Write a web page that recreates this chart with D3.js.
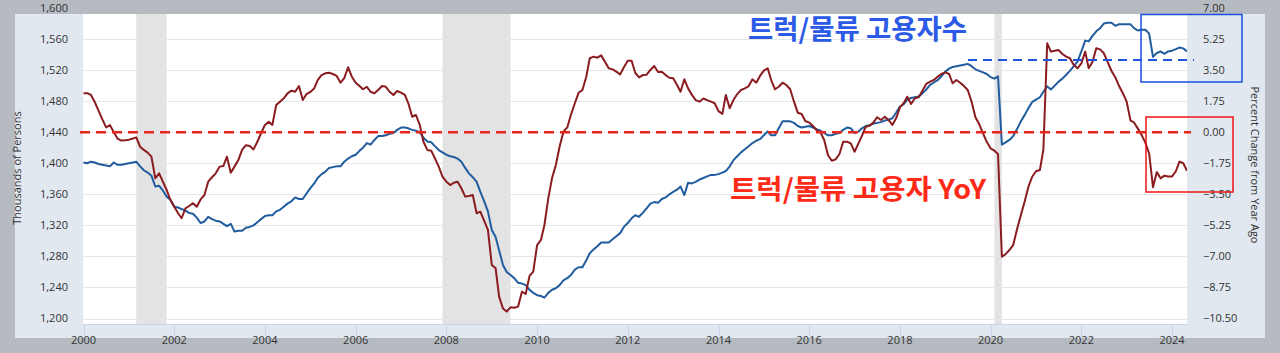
<!DOCTYPE html>
<html><head><meta charset="utf-8">
<script src="https://cdn.jsdelivr.net/npm/d3@7"></script>
<style>
html,body{margin:0;padding:0;background:#b6bac1;}
svg{display:block;}
</style></head>
<body>
<svg id="c" width="1280" height="353"></svg>
<script>
// ---- data ----
const startMonth = "2000-01";
const employment = [
// 2000
1401,1400,1402,1401,1399,1398,1397,1396,1401,1398,1398,1399,
// 2001
1400,1401,1402,1396,1391,1388,1384,1370,1371,1365,1357,1353,
// 2002
1344,1343,1341,1339,1336,1335,1330,1323,1325,1331,1328,1326,
// 2003
1325,1322,1319,1322,1312,1313,1313,1317,1318,1320,1324,1328,
// 2004
1332,1333,1333,1338,1340,1344,1348,1351,1356,1354,1354,1361,
// 2005
1368,1374,1381,1386,1389,1394,1395,1396,1396,1402,1406,1409,
// 2006
1411,1416,1420,1426,1424,1430,1435,1435,1436,1438,1439,1443,
// 2007
1446,1446,1445,1443,1442,1440,1433,1428,1427,1422,1417,1414,
// 2008
1411,1409,1408,1406,1402,1394,1387,1382,1376,1363,1351,1338,
// 2009
1314,1305,1288,1269,1260,1256,1252,1246,1245,1243,1237,1233,
// 2010
1230,1229,1227,1233,1237,1239,1243,1249,1252,1256,1263,1266,
// 2011
1266,1275,1284,1289,1293,1298,1298,1298,1302,1306,1310,1318,
// 2012
1323,1329,1333,1331,1336,1342,1348,1350,1349,1354,1356,1360,
// 2013
1363,1366,1370,1359,1375,1374,1376,1379,1381,1383,1385,1385,
// 2014
1386,1388,1390,1396,1404,1409,1414,1418,1422,1426,1429,1431,
// 2015
1436,1441,1436,1436,1445,1454,1454,1454,1452,1448,1446,1447,
// 2016
1448,1446,1444,1442,1439,1436,1436,1438,1439,1443,1446,1445,
// 2017
1439,1441,1445,1448,1449,1451,1452,1453,1455,1456,1458,1465,
// 2018
1473,1476,1482,1484,1485,1486,1490,1495,1501,1504,1507,1512,
// 2019
1518,1522,1524,1525,1526,1527,1528,1525,1521,1519,1517,1515,
// 2020
1511,1509,1512,1424,1427,1430,1435,1444,1454,1462,1471,1479,
// 2021
1482,1485,1492,1499,1495,1500,1505,1509,1514,1519,1525,1531,
// 2022
1544,1558,1557,1564,1570,1574,1580,1581,1581,1577,1579,1579,
// 2023
1579,1579,1574,1571,1572,1572,1567,1537,1542,1544,1541,1544,
// 2024
1545,1547,1549,1548,1544
];
const yoyPct = [
// 2000
2.19,2.20,2.10,1.70,1.22,0.72,0.27,0.40,0.00,-0.36,-0.47,-0.46,
// 2001
-0.42,-0.36,-0.29,-0.82,-1.00,-1.15,-1.38,-2.60,-2.32,-2.79,-3.26,-3.82,
// 2002
-4.20,-4.57,-4.85,-4.29,-4.16,-4.00,-4.20,-3.79,-3.54,-2.79,-2.54,-2.32,
// 2003
-1.94,-1.90,-1.38,-2.28,-1.94,-1.57,-1.00,-0.73,-0.78,-0.97,-0.54,-0.06,
// 2004
0.41,0.59,0.41,1.53,1.72,1.91,2.19,2.34,2.28,2.60,1.81,2.15,
// 2005
2.27,2.47,2.94,3.22,3.32,3.35,3.28,3.17,2.79,3.05,3.66,3.13,
// 2006
2.79,2.60,2.42,2.56,2.28,2.19,2.38,2.60,2.56,2.28,2.10,2.32,
// 2007
2.23,2.10,1.63,0.87,0.97,0.41,-0.54,-1.00,-1.04,-1.47,-1.94,-2.51,
// 2008
-2.79,-2.98,-2.85,-2.79,-3.16,-3.63,-3.60,-3.54,-4.57,-4.48,-5.00,-5.50,
// 2009
-7.48,-7.67,-9.27,-9.93,-10.11,-9.87,-9.89,-9.83,-8.99,-9.12,-8.10,-7.86,
// 2010
-6.36,-6.07,-5.23,-3.73,-2.60,-1.85,-0.82,0.03,0.27,1.00,1.63,2.22,
// 2011
2.38,3.13,4.17,4.26,4.20,4.33,3.97,3.60,3.54,3.41,3.26,3.66,
// 2012
4.03,4.03,3.35,3.09,3.22,3.24,3.51,3.73,3.39,3.41,3.22,3.07,
// 2013
3.04,2.66,2.28,2.98,2.47,2.10,1.81,1.72,1.90,1.81,1.72,1.63,
// 2014
1.19,1.03,2.10,1.35,1.81,2.15,2.38,2.47,2.60,2.98,2.79,3.17,
// 2015
3.47,3.60,2.94,2.42,2.56,2.79,2.66,2.42,1.72,1.10,1.03,0.63,
// 2016
0.54,0.35,0.10,0.00,-0.44,-1.30,-1.61,-1.53,-1.23,-0.54,-0.54,-0.63,
// 2017
-1.10,-0.63,-0.21,0.31,0.36,0.54,0.84,0.69,0.87,0.69,0.41,0.78,
// 2018
1.40,1.65,2.00,1.59,1.91,1.97,2.34,2.72,2.85,2.94,3.13,3.28,
// 2019
3.37,3.28,2.76,2.94,2.79,2.60,2.38,1.72,0.84,0.46,-0.06,-0.54,
// 2020
-0.91,-1.04,-1.23,-7.02,-6.87,-6.64,-6.36,-5.47,-4.67,-3.92,-3.07,-2.51,
// 2021
-2.20,-2.13,-1.00,5.01,4.54,4.59,4.63,4.41,4.26,4.17,3.79,3.60,
// 2022
3.88,4.54,3.60,3.97,4.73,4.67,4.45,3.95,3.45,3.10,2.60,2.20,
// 2023
1.72,0.65,0.55,0.20,-0.15,-0.60,-1.20,-3.10,-2.25,-2.60,-2.45,-2.50,
// 2024
-2.50,-2.20,-1.66,-1.75,-2.17
];
const recessions = [["2001-03","2001-11"],["2007-12","2009-06"],["2020-02","2020-04"]];
const leftTicks = [1200,1240,1280,1320,1360,1400,1440,1480,1520,1560,1600];
const rightTicks = [-10.5,-8.75,-7,-5.25,-3.5,-1.75,0,1.75,3.5,5.25,7];
const xTickYears = [2000,2002,2004,2006,2008,2010,2012,2014,2016,2018,2020,2022,2024];
const leftTitle = "Thousands of Persons";
const rightTitle = "Percent Change from Year Ago";
const blueNote = "트럭/물류 고용자수";
const redNote = "트럭/물류 고용자 YoY";
const blueRefLevel = 1533;   // level of blue dashed reference line
const yoyZero = 0;

// ---- layout ----
const svg = d3.select("#c");
const W = 1280, H = 353;
const plot = {l:83, r:1187, t:8, b:324};
const parse = d3.timeParse("%Y-%m");
const t0 = parse(startMonth);
const dates = employment.map((d,i)=> d3.timeMonth.offset(t0, i));

const x = d3.scaleTime().domain([new Date(2000,0,1), new Date(2024,0,1)]).range([83.5, 1172]);
const yL = d3.scaleLinear().domain([1200,1600]).range([318.5, 8]);
const yR = d3.scaleLinear().domain([-10.5,7]).range([318.5, 8]);

// backgrounds
svg.append("rect").attr("width",W).attr("height",H).attr("fill","#b6bac1");
svg.append("rect").attr("x",15).attr("y",14).attr("width",1250).attr("height",324).attr("fill","#e1e8ef");
svg.append("rect").attr("x",plot.l).attr("y",14).attr("width",plot.r-plot.l).attr("height",plot.b-14).attr("fill","#ffffff");

const defs = svg.append("defs");
defs.append("clipPath").attr("id","clip").append("rect")
  .attr("x",plot.l).attr("y",14).attr("width",plot.r-plot.l).attr("height",plot.b-14);

const g = svg.append("g").attr("clip-path","url(#clip)");

// recession shading
g.selectAll("rect.rec").data(recessions).join("rect")
  .attr("x", d=>x(parse(d[0]))).attr("width", d=>x(parse(d[1]))-x(parse(d[0])))
  .attr("y",14).attr("height",plot.b-14).attr("fill","#e3e3e3");

// gridlines
g.selectAll("line.grid").data(leftTicks).join("line")
  .attr("x1",plot.l).attr("x2",plot.r)
  .attr("y1",d=>Math.round(yL(d))+0.5).attr("y2",d=>Math.round(yL(d))+0.5)
  .attr("stroke","#e6e6e6").attr("stroke-width",1);

// series lines
const lineBlue = d3.line().x((d,i)=>x(dates[i])).y(d=>yL(d));
const lineRed = d3.line().x((d,i)=>x(dates[i])).y(d=>yR(d));
g.append("path").datum(employment).attr("d",lineBlue)
  .attr("fill","none").attr("stroke","#205c9e").attr("stroke-width",2).attr("stroke-linejoin","round");
g.append("path").datum(yoyPct).attr("d",lineRed)
  .attr("fill","none").attr("stroke","#8a1b1f").attr("stroke-width",2).attr("stroke-linejoin","round");

// bottom axis line + ticks
svg.append("line").attr("x1",plot.l).attr("x2",plot.r).attr("y1",plot.b+0.5).attr("y2",plot.b+0.5)
  .attr("stroke","#ccd6eb").attr("stroke-width",1);
svg.selectAll("line.xt").data(xTickYears).join("line")
  .attr("x1",d=>Math.round(x(new Date(d,0,1)))+0.5).attr("x2",d=>Math.round(x(new Date(d,0,1)))+0.5)
  .attr("y1",plot.b).attr("y2",plot.b+12).attr("stroke","#ccd6eb");

// axis labels
const font = "'Open Sans', 'DejaVu Sans', sans-serif";
svg.selectAll("text.yl").data(leftTicks).join("text")
  .attr("x",68).attr("y",d=>yL(d)).attr("dy","0.35em").attr("text-anchor","end")
  .attr("font-family",font).attr("font-size",11).attr("fill","#333")
  .text(d=>d3.format(",")(d));
svg.selectAll("text.yr").data(rightTicks).join("text")
  .attr("x",1203).attr("y",d=>yR(d)).attr("dy","0.35em").attr("text-anchor","start")
  .attr("font-family",font).attr("font-size",11).attr("fill","#333")
  .text(d=>d3.format(".2f")(d));
svg.selectAll("text.xl").data(xTickYears).join("text")
  .attr("x",d=>x(new Date(d,0,1))).attr("y",340).attr("dy","0.35em").attr("text-anchor","middle")
  .attr("font-family",font).attr("font-size",11).attr("fill","#333")
  .text(d=>d);

svg.append("text").attr("transform","translate(21,168) rotate(-90)").attr("text-anchor","middle")
  .attr("font-family",font).attr("font-size",11).attr("fill","#333").text(leftTitle);
svg.append("text").attr("transform","translate(1251,165) rotate(90)").attr("text-anchor","middle")
  .attr("font-family",font).attr("font-size",11).attr("fill","#333").text(rightTitle);

// annotations
svg.append("line").attr("x1",80).attr("x2",1191).attr("y1",yR(yoyZero)).attr("y2",yR(yoyZero))
  .attr("stroke","#e8261c").attr("stroke-width",2.5).attr("stroke-dasharray","10,6");
svg.append("line").attr("x1",968).attr("x2",1194).attr("y1",yL(blueRefLevel)).attr("y2",yL(blueRefLevel))
  .attr("stroke","#1f55dd").attr("stroke-width",2).attr("stroke-dasharray","9,6");

const kfont = "'Noto Sans CJK KR', sans-serif";
svg.append("text").attr("x",748).attr("y",38.5).attr("font-family",kfont).attr("font-weight","bold")
  .attr("font-size",27).attr("fill","#2a5ae6")
  .attr("textLength",219).attr("lengthAdjust","spacingAndGlyphs").text(blueNote);
svg.append("text").attr("x",730).attr("y",198.5).attr("font-family",kfont).attr("font-weight","bold")
  .attr("font-size",27).attr("fill","#fe2a18")
  .attr("textLength",256).attr("lengthAdjust","spacingAndGlyphs").text(redNote);

svg.append("rect").attr("x",1141).attr("y",14.5).attr("width",101).attr("height",67.5)
  .attr("fill","none").attr("stroke","#1a4fe0").attr("stroke-width",1.5);
svg.append("rect").attr("x",1146).attr("y",117).attr("width",87).attr("height",75)
  .attr("fill","none").attr("stroke","#f01414").attr("stroke-width",1.5);
</script>
</body></html>
